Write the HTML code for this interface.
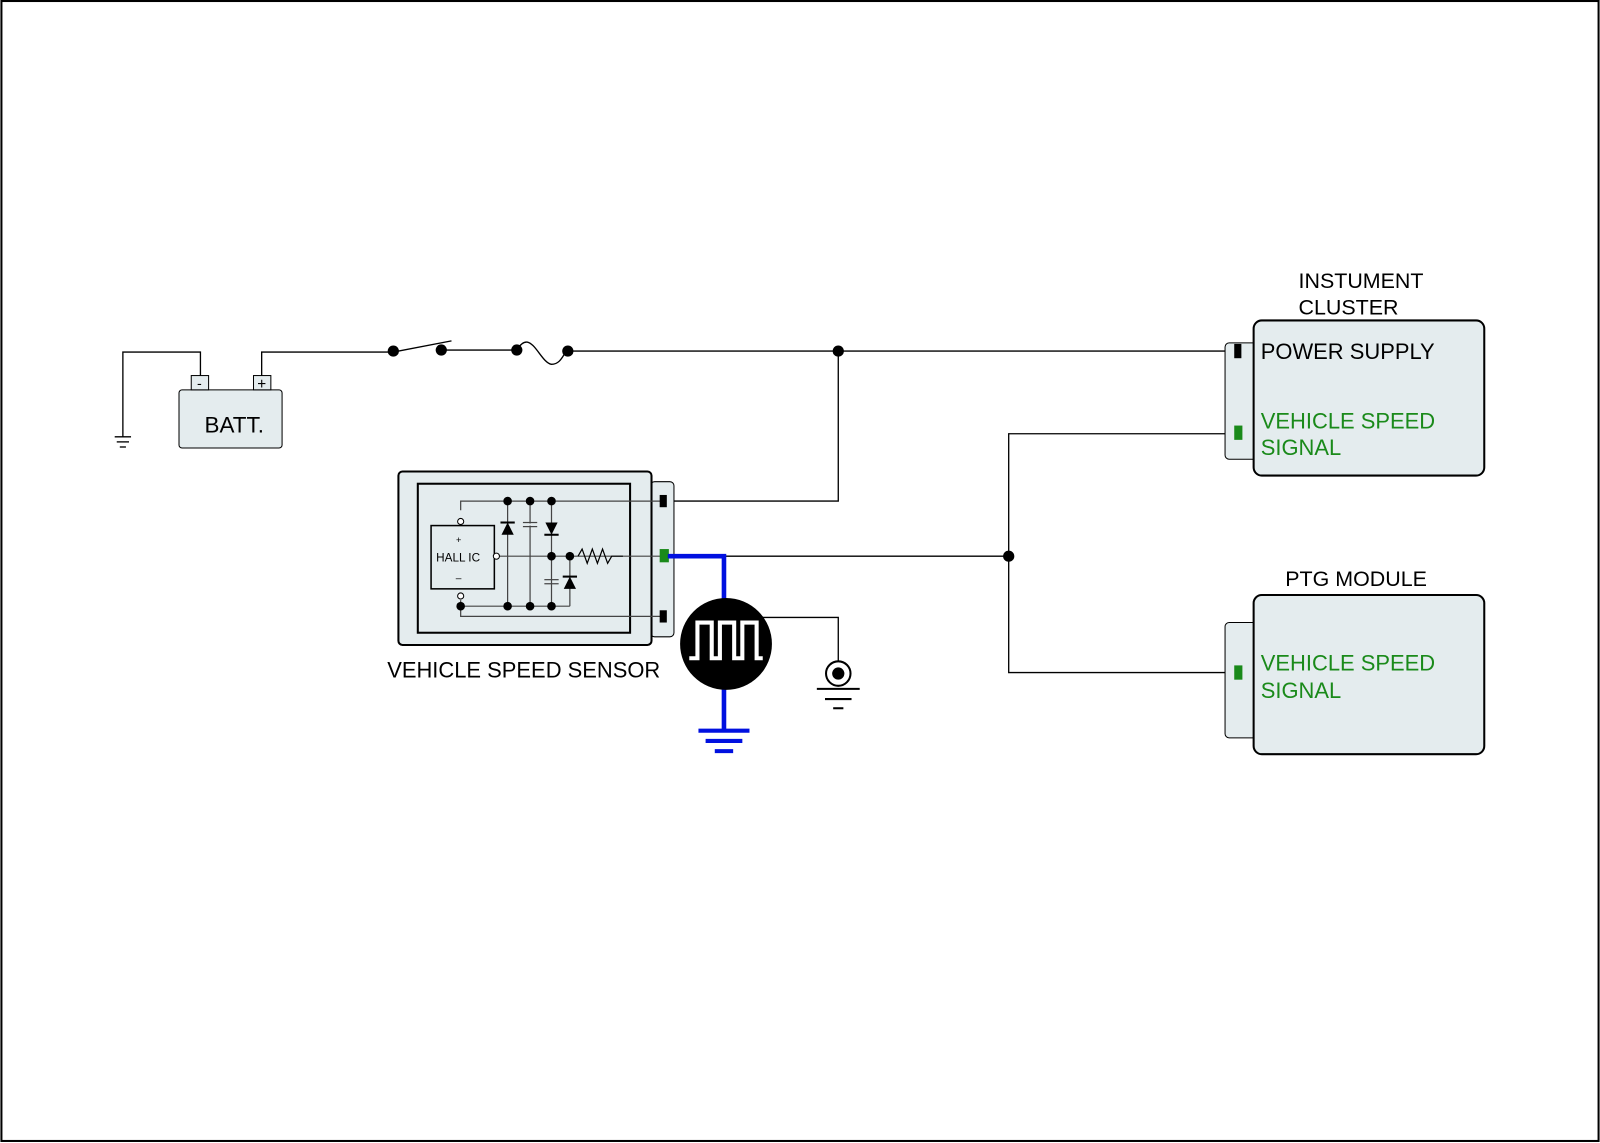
<!DOCTYPE html>
<html><head><style>html,body{margin:0;padding:0;background:#fff}svg{display:block}</style></head><body>
<svg width="1600" height="1143" viewBox="0 0 1567 1120" xmlns="http://www.w3.org/2000/svg" font-family="Liberation Sans, sans-serif">
<rect x="1" y="1" width="1565" height="1117" fill="#fff" stroke="#000" stroke-width="2"/>
<g fill="none" stroke="#000" stroke-width="1.3">
<polyline points="196,370 196,345 120,345 120,428"/>
<line x1="112" y1="428" x2="128" y2="428"/><line x1="114" y1="433" x2="126" y2="433"/><line x1="117" y1="438" x2="123" y2="438"/>
<polyline points="256,370 256,345 385,345"/>
<line x1="385" y1="345" x2="442" y2="334"/>
<line x1="432" y1="343" x2="506" y2="343"/>
<path d="M506,343 C520,320 528,355 540,357 C550,357 552,345 556,343"/>
<line x1="556" y1="344" x2="1210" y2="344"/>
<polyline points="821,344 821,491 652,491"/>
<line x1="652" y1="545" x2="988" y2="545"/>
<polyline points="1210,425 988,425 988,659 1210,659"/>
<polyline points="740,605 821,605 821,650"/>
</g>
<rect x="175" y="382" width="101" height="57" rx="3" fill="#e4ecee" stroke="#000" stroke-width="1"/>
<rect x="187" y="368" width="17" height="14" fill="#e4ecee" stroke="#000"/>
<rect x="248" y="368" width="17" height="14" fill="#e4ecee" stroke="#000"/>
<text x="195" y="380" font-size="14" text-anchor="middle">-</text>
<text x="256" y="381" font-size="15" text-anchor="middle">+</text>
<text x="200" y="424" font-size="22">BATT.</text>
<g fill="#000"><circle cx="385" cy="344" r="5.5"/><circle cx="432" cy="343" r="5.5"/><circle cx="506" cy="343" r="5.5"/><circle cx="556" cy="344" r="5.5"/><circle cx="821" cy="344" r="5.5"/><circle cx="988" cy="545" r="5.5"/></g>
<rect x="637" y="472" width="23" height="152" rx="4" fill="#e4ecee" stroke="#000" stroke-width="1"/>
<rect x="390" y="462" width="248" height="170" rx="4" fill="#e4ecee" stroke="#000" stroke-width="2"/>
<rect x="409" y="474" width="208" height="146" fill="#e4ecee" stroke="#000" stroke-width="2"/>
<g fill="none" stroke="#444" stroke-width="1.2">
<polyline points="451,500 451,491 652,491"/>
<polyline points="451,588 451,604 652,604"/>
<line x1="487" y1="545" x2="652" y2="545"/>
<line x1="497" y1="491" x2="497" y2="594"/><line x1="519" y1="491" x2="519" y2="594"/>
<line x1="540" y1="491" x2="540" y2="594"/><line x1="558" y1="545" x2="558" y2="594"/>
<line x1="451" y1="594" x2="558" y2="594"/>
<line x1="512" y1="512" x2="526" y2="512"/><line x1="512" y1="516" x2="526" y2="516"/>
<line x1="533" y1="568" x2="547" y2="568"/><line x1="533" y1="572" x2="547" y2="572"/>
<polyline points="566,545 570,538 575,552 580,538 585,552 590,538 595,552 599,545 610,545" stroke="#000"/>
</g>
<rect x="512" y="513" width="14" height="2" fill="#e4ecee"/>
<g fill="#000">
<polygon points="491,524 503,524 497,512"/><rect x="490" y="511" width="14" height="2"/>
<polygon points="534,512 546,512 540,524"/><rect x="533" y="523" width="14" height="2"/>
<polygon points="552,577 564,577 558,565"/><rect x="551" y="564" width="14" height="2"/>
<circle cx="497" cy="491" r="4.2"/><circle cx="519" cy="491" r="4.2"/><circle cx="540" cy="491" r="4.2"/>
<circle cx="540" cy="545" r="4.2"/><circle cx="558" cy="545" r="4.2"/>
<circle cx="451" cy="594" r="4.2"/><circle cx="497" cy="594" r="4.2"/><circle cx="519" cy="594" r="4.2"/><circle cx="540" cy="594" r="4.2"/>
</g>
<rect x="422" y="515" width="62" height="62" fill="#e4ecee" stroke="#000" stroke-width="1.5"/>
<circle cx="451" cy="511" r="3" fill="#fff" stroke="#000"/><circle cx="451" cy="584" r="3" fill="#fff" stroke="#000"/>
<circle cx="486" cy="545" r="3" fill="#fff" stroke="#000"/>
<text x="449" y="532" font-size="9" text-anchor="middle">+</text>
<text x="427" y="550" font-size="11.5">HALL IC</text>
<text x="449" y="570" font-size="10" text-anchor="middle">–</text>
<rect x="646" y="485" width="7" height="12" fill="#000"/>
<rect x="646" y="538" width="9" height="13" fill="#1a8a1a"/>
<rect x="646" y="598" width="7" height="12" fill="#000"/>
<text x="379" y="664" font-size="21.5">VEHICLE SPEED SENSOR</text>
<polyline points="654,545 709,545 709,715" fill="none" stroke="#0010e0" stroke-width="4.5"/>
<line x1="684" y1="716" x2="734" y2="716" stroke="#0010e0" stroke-width="4"/>
<line x1="691" y1="726" x2="727" y2="726" stroke="#0010e0" stroke-width="4"/>
<line x1="700" y1="736" x2="718" y2="736" stroke="#0010e0" stroke-width="4"/>
<circle cx="711" cy="631" r="45" fill="#000"/>
<polyline points="675,645 683,645 683,610 697,610 697,645 705,645 705,610 719,610 719,645 727,645 727,610 741,610 741,645 747,645" fill="none" stroke="#fff" stroke-width="4"/>
<circle cx="821" cy="660" r="12" fill="#fff" stroke="#000" stroke-width="2"/>
<circle cx="821" cy="660" r="6" fill="#000"/>
<line x1="800" y1="675" x2="842" y2="675" stroke="#000" stroke-width="2"/>
<line x1="808" y1="685" x2="834" y2="685" stroke="#000" stroke-width="2"/>
<line x1="816" y1="694" x2="826" y2="694" stroke="#000" stroke-width="2"/>
<rect x="1200" y="336" width="33" height="114" rx="4" fill="#e4ecee" stroke="#000" stroke-width="1"/>
<rect x="1228" y="314" width="226" height="152" rx="8" fill="#e4ecee" stroke="#000" stroke-width="2"/>
<rect x="1209" y="337" width="7" height="14" fill="#000"/>
<rect x="1209" y="417" width="8" height="14" fill="#1a8a1a"/>
<text x="1272" y="282" font-size="21">INSTUMENT</text>
<text x="1272" y="308" font-size="21">CLUSTER</text>
<text x="1235" y="352" font-size="21.5">POWER SUPPLY</text>
<text x="1235" y="420" font-size="21.5" fill="#1a8a1a">VEHICLE SPEED</text>
<text x="1235" y="446" font-size="21.5" fill="#1a8a1a">SIGNAL</text>
<rect x="1200" y="610" width="33" height="113" rx="4" fill="#e4ecee" stroke="#000" stroke-width="1"/>
<rect x="1228" y="583" width="226" height="156" rx="8" fill="#e4ecee" stroke="#000" stroke-width="2"/>
<rect x="1209" y="652" width="8" height="14" fill="#1a8a1a"/>
<text x="1259" y="574" font-size="21">PTG MODULE</text>
<text x="1235" y="657" font-size="21.5" fill="#1a8a1a">VEHICLE SPEED</text>
<text x="1235" y="684" font-size="21.5" fill="#1a8a1a">SIGNAL</text>
</svg>
</body></html>
